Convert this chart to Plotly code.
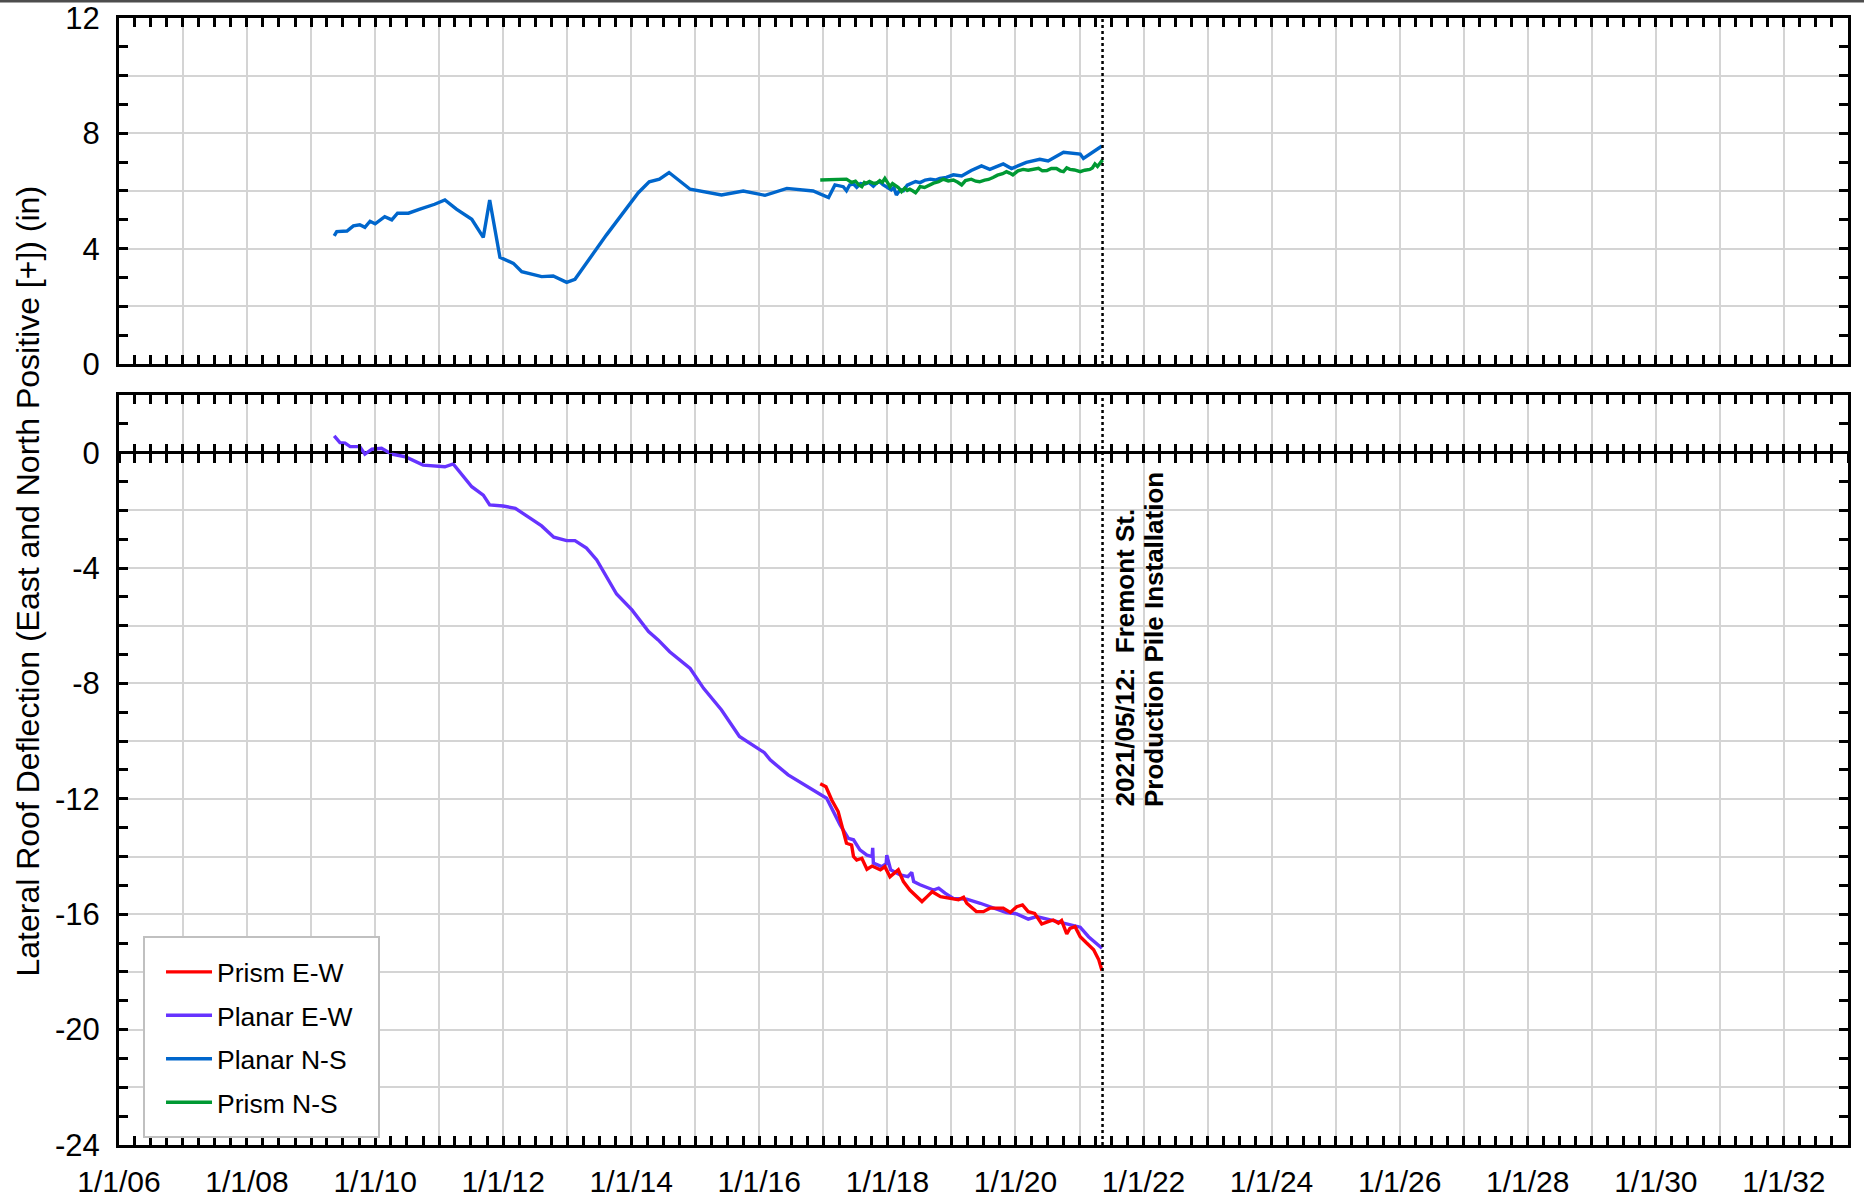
import datetime as dt
import plotly.graph_objects as go

# ---------------- data (decimal years) ----------------
planar_ns_t = [2009.36, 2009.40, 2009.56, 2009.66, 2009.76, 2009.84, 2009.92, 2010.00, 2010.15, 2010.26,
               2010.35, 2010.52, 2010.70, 2010.93, 2011.09, 2011.27, 2011.51, 2011.69, 2011.79, 2011.95,
               2012.16, 2012.29, 2012.60, 2012.78, 2012.99, 2013.12, 2013.61, 2014.11, 2014.28, 2014.44,
               2014.59, 2014.76, 2014.92, 2015.41, 2015.75, 2016.09, 2016.43, 2016.84, 2017.08, 2017.18,
               2017.24, 2017.31, 2017.36, 2017.41, 2017.47, 2017.52, 2017.58, 2017.65, 2017.71, 2017.78,
               2017.83, 2017.88, 2017.93, 2017.99, 2018.06, 2018.10, 2018.14, 2018.20, 2018.25, 2018.31,
               2018.38, 2018.44, 2018.51, 2018.59, 2018.67, 2018.75, 2018.82, 2018.92, 2019.03, 2019.16,
               2019.31, 2019.47, 2019.60, 2019.81, 2019.94, 2020.17, 2020.38, 2020.51, 2020.75, 2021.01,
               2021.06, 2021.35]
planar_ns_v = [4.44, 4.59, 4.61, 4.79, 4.83, 4.74, 4.95, 4.86, 5.11, 5.00,
               5.23, 5.23, 5.37, 5.54, 5.69, 5.37, 5.02, 4.39, 5.69, 3.70,
               3.49, 3.20, 3.03, 3.05, 2.83, 2.94, 4.47, 5.94, 6.32, 6.41,
               6.64, 6.35, 6.06, 5.86, 6.00, 5.85, 6.09, 6.00, 5.77, 6.21,
               6.18, 6.15, 6.01, 6.21, 6.24, 6.13, 6.26, 6.24, 6.30, 6.17,
               6.28, 6.32, 6.22, 6.15, 6.04, 6.12, 5.86, 6.05, 6.01, 6.20,
               6.27, 6.33, 6.29, 6.38, 6.41, 6.38, 6.44, 6.47, 6.56, 6.52,
               6.71, 6.87, 6.75, 6.94, 6.78, 6.99, 7.10, 7.04, 7.34, 7.28,
               7.13, 7.56]

prism_ns_t = [2016.95, 2017.36, 2017.44, 2017.50, 2017.55, 2017.60, 2017.64, 2017.67, 2017.72, 2017.78,
              2017.83, 2017.88, 2017.92, 2017.96, 2018.00, 2018.04, 2018.08, 2018.12, 2018.17, 2018.22,
              2018.27, 2018.31, 2018.35, 2018.40, 2018.44, 2018.48, 2018.51, 2018.58, 2018.65, 2018.72,
              2018.80, 2018.87, 2018.95, 2019.03, 2019.10, 2019.16, 2019.22, 2019.31, 2019.38, 2019.44,
              2019.52, 2019.58, 2019.65, 2019.72, 2019.80, 2019.86, 2019.91, 2019.96, 2020.04, 2020.12,
              2020.20, 2020.28, 2020.36, 2020.42, 2020.49, 2020.56, 2020.64, 2020.70, 2020.75, 2020.80,
              2020.85, 2020.92, 2021.01, 2021.08, 2021.16, 2021.20, 2021.24, 2021.28, 2021.32, 2021.36]
prism_ns_v = [6.38, 6.41, 6.30, 6.34, 6.22, 6.15, 6.30, 6.27, 6.33, 6.27,
              6.27, 6.36, 6.30, 6.44, 6.30, 6.15, 6.26, 6.21, 6.12, 5.98,
              6.10, 6.02, 6.06, 6.00, 5.94, 6.05, 6.15, 6.12, 6.20, 6.27,
              6.32, 6.41, 6.35, 6.38, 6.30, 6.21, 6.36, 6.41, 6.34, 6.32,
              6.38, 6.40, 6.47, 6.55, 6.60, 6.67, 6.62, 6.56, 6.70, 6.75,
              6.72, 6.75, 6.79, 6.70, 6.71, 6.78, 6.78, 6.70, 6.67, 6.80,
              6.75, 6.73, 6.67, 6.72, 6.75, 6.80, 6.94, 6.85, 6.95, 7.08]

planar_ew_t = [2009.36, 2009.45, 2009.53, 2009.61, 2009.76, 2009.84, 2009.95, 2010.10, 2010.26, 2010.47,
               2010.75, 2011.09, 2011.22, 2011.51, 2011.69, 2011.79, 2012.00, 2012.19, 2012.42, 2012.60,
               2012.79, 2012.99, 2013.12, 2013.30, 2013.46, 2013.77, 2014.01, 2014.27, 2014.42, 2014.60,
               2014.92, 2015.13, 2015.41, 2015.69, 2016.08, 2016.17, 2016.45, 2017.05, 2017.26, 2017.39,
               2017.47, 2017.57, 2017.68, 2017.76, 2017.77, 2017.78, 2017.91, 2017.98, 2017.99, 2018.05,
               2018.20, 2018.32, 2018.38, 2018.41, 2018.51, 2018.60, 2018.72, 2018.80, 2018.90, 2019.03,
               2019.24, 2019.45, 2019.65, 2019.86, 2020.02, 2020.20, 2020.33, 2020.51, 2020.75, 2021.01,
               2021.14, 2021.35]
planar_ew_v = [0.58, 0.35, 0.33, 0.21, 0.21, -0.05, 0.12, 0.15, -0.05, -0.14,
               -0.43, -0.49, -0.39, -1.18, -1.47, -1.81, -1.85, -1.93, -2.27, -2.54,
               -2.93, -3.05, -3.05, -3.31, -3.72, -4.90, -5.45, -6.20, -6.49, -6.90,
               -7.48, -8.17, -8.92, -9.84, -10.40, -10.65, -11.17, -11.98, -12.90, -13.37,
               -13.42, -13.77, -13.95, -14.00, -13.70, -14.23, -14.35, -14.25, -13.95, -14.46,
               -14.64, -14.70, -14.55, -14.87, -14.98, -15.05, -15.16, -15.10, -15.27, -15.45,
               -15.48, -15.62, -15.79, -15.94, -15.99, -16.17, -16.08, -16.17, -16.31, -16.45,
               -16.78, -17.18]

prism_ew_t = [2016.95, 2017.04, 2017.13, 2017.23, 2017.36, 2017.44, 2017.47, 2017.52, 2017.60, 2017.68,
              2017.76, 2017.89, 2017.96, 2018.04, 2018.17, 2018.25, 2018.35, 2018.46, 2018.54, 2018.62,
              2018.70, 2018.83, 2018.98, 2019.11, 2019.19, 2019.24, 2019.39, 2019.50, 2019.60, 2019.81,
              2019.92, 2020.02, 2020.11, 2020.20, 2020.30, 2020.41, 2020.51, 2020.59, 2020.67, 2020.72,
              2020.80, 2020.85, 2020.93, 2021.01, 2021.11, 2021.22, 2021.30, 2021.35]
prism_ew_v = [-11.48, -11.58, -12.04, -12.44, -13.54, -13.60, -14.00, -14.12, -14.06, -14.44,
              -14.33, -14.46, -14.35, -14.70, -14.46, -14.87, -15.16, -15.39, -15.56, -15.39,
              -15.22, -15.39, -15.45, -15.50, -15.41, -15.62, -15.91, -15.91, -15.79, -15.79,
              -15.94, -15.74, -15.68, -15.91, -15.97, -16.34, -16.26, -16.20, -16.31, -16.22,
              -16.68, -16.49, -16.43, -16.78, -17.00, -17.23, -17.58, -17.95]

EVENT_DATE = "2021-05-12"
EVENT_LINES = ["2021/05/12:  Fremont St.", "Production Pile Installation"]
X_RANGE = ["2006-01-01", "2033-01-01"]
TOP_RANGE = [0, 12]
BOT_RANGE = [-24, 2]
TOP_TICKVALS = [0, 2, 4, 6, 8, 10, 12]
TOP_TICKTEXT = ["0", "", "4", "", "8", "", "12"]
BOT_TICKVALS = [-24, -22, -20, -18, -16, -14, -12, -10, -8, -6, -4, -2, 0, 2]
BOT_TICKTEXT = ["-24", "", "-20", "", "-16", "", "-12", "", "-8", "", "-4", "", "0", ""]
Y_TITLE = "Lateral Roof Deflection (East and North Positive [+]) (in)"

RED = "#ff0000"
PURPLE = "#6633ff"
BLUE = "#0066cc"
GREEN = "#009933"


def to_dates(years):
    out = []
    for d in years:
        y = int(d)
        a = dt.datetime(y, 1, 1)
        b = dt.datetime(y + 1, 1, 1)
        out.append(a + (b - a) * (d - y))
    return out


fig = go.Figure()
LW = 3.4
fig.add_trace(go.Scatter(x=to_dates(planar_ew_t), y=planar_ew_v, xaxis="x2", yaxis="y2", mode="lines",
                         name="Planar E-W", line=dict(color=PURPLE, width=LW), legendrank=2, legendgroup="g2"))
fig.add_trace(go.Scatter(x=to_dates(prism_ew_t), y=prism_ew_v, xaxis="x2", yaxis="y2", mode="lines",
                         name="Prism E-W", line=dict(color=RED, width=LW), legendrank=1, legendgroup="g1"))
fig.add_trace(go.Scatter(x=to_dates(planar_ns_t), y=planar_ns_v, xaxis="x", yaxis="y", mode="lines",
                         name="Planar N-S", line=dict(color=BLUE, width=LW), legendrank=3, legendgroup="g3"))
fig.add_trace(go.Scatter(x=to_dates(prism_ns_t), y=prism_ns_v, xaxis="x", yaxis="y", mode="lines",
                         name="Prism N-S", line=dict(color=GREEN, width=LW), legendrank=4, legendgroup="g4"))
# dummy traces so the zero-line tick axes are drawn
for ax in ["x3", "x4"]:
    fig.add_trace(go.Scatter(x=[None], y=[None], xaxis=ax, yaxis="y2", showlegend=False, hoverinfo="skip"))

GRID = "#d4d4d4"
TL = 9
TW = 2.5
FONT_TICK = 31

xcommon = dict(type="date", range=X_RANGE, tick0="2006-01-01", dtick="M12", automargin=False,
               showline=True, linecolor="black", linewidth=3, mirror="ticks",
               ticks="inside", ticklen=TL, tickwidth=TW, tickcolor="black",
               showgrid=True, gridcolor=GRID, gridwidth=1.5, zeroline=False,
               minor=dict(dtick="M3", ticks="inside", ticklen=TL, tickwidth=TW,
                          tickcolor="black", showgrid=False))
ycommon = dict(tickmode="array", automargin=False,
               showline=True, linecolor="black", linewidth=3, mirror="ticks",
               ticks="inside", ticklen=TL, tickwidth=TW, tickcolor="black",
               showgrid=True, gridcolor=GRID, gridwidth=1.5,
               tickfont=dict(size=FONT_TICK), ticklabelstandoff=10,
               minor=dict(tick0=0, dtick=1, ticks="inside", ticklen=TL, tickwidth=TW,
                          tickcolor="black", showgrid=False))

TOP_DOM = [0.693, 1.0]
BOT_DOM = [0.0, 0.6655]
ZERO_POS = BOT_DOM[0] + (0 - BOT_RANGE[0]) / (BOT_RANGE[1] - BOT_RANGE[0]) * (BOT_DOM[1] - BOT_DOM[0])

zero_axis = dict(type="date", range=X_RANGE, tick0="2006-01-01", dtick="M12", overlaying="x2",
                 anchor="free", position=ZERO_POS, side="bottom", showline=False, showgrid=False,
                 showticklabels=False, zeroline=False, ticklen=TL, tickwidth=TW, tickcolor="black",
                 automargin=False)

fig.update_layout(
    width=1864, height=1199,
    margin=dict(l=119, r=16, t=18, b=54, autoexpand=False),
    paper_bgcolor="white", plot_bgcolor="white",
    font=dict(family="Liberation Sans, Arial, sans-serif", color="black", size=FONT_TICK),
    xaxis=dict(**xcommon, anchor="y", domain=[0, 1], showticklabels=False, matches="x2"),
    xaxis2=dict(**xcommon, anchor="y2", domain=[0, 1], showticklabels=True,
                tickformat="%-m/%-d/%y", ticklabelstep=2, tickfont=dict(size=30),
                ticklabelstandoff=8),
    xaxis3=dict(**zero_axis, ticks="outside",
                minor=dict(dtick="M3", ticks="outside", ticklen=TL, tickwidth=TW, tickcolor="black",
                           showgrid=False)),
    xaxis4=dict(**zero_axis, ticks="inside",
                minor=dict(dtick="M3", ticks="inside", ticklen=TL, tickwidth=TW, tickcolor="black",
                           showgrid=False)),
    yaxis=dict(**ycommon, anchor="x", domain=TOP_DOM, range=TOP_RANGE, zeroline=False,
               tickvals=TOP_TICKVALS, ticktext=TOP_TICKTEXT),
    yaxis2=dict(**ycommon, anchor="x2", domain=BOT_DOM, range=BOT_RANGE,
                tickvals=BOT_TICKVALS, ticktext=BOT_TICKTEXT,
                zeroline=True, zerolinecolor="black", zerolinewidth=3),
    showlegend=True,
    legend=dict(x=0.0243, y=0.1747, xanchor="left", yanchor="top",
                bgcolor="rgba(0,0,0,0)", borderwidth=0,
                font=dict(size=26.5), traceorder="grouped", tracegroupgap=6,
                itemwidth=46),
)

# event line in both panels
for xr, yr in [("x", "y domain"), ("x2", "y2 domain")]:
    fig.add_shape(type="line", xref=xr, yref=yr, x0=EVENT_DATE, x1=EVENT_DATE, y0=0, y1=1,
                  line=dict(color="black", width=2.5, dash="dot"))

# legend frame
fig.add_shape(type="rect", xref="paper", yref="paper", x0=0.01446, x1=0.15038, y0=0.0071, y1=0.18456,
              fillcolor="white", line=dict(color="#c0c0c0", width=2), layer="above")

for i, line_text in enumerate(EVENT_LINES):
    fig.add_annotation(x=EVENT_DATE, y=-12.35, xref="x2", yref="y2", text="<b>" + line_text + "</b>",
                       textangle=-90, xanchor="left", yanchor="bottom", xshift=5 + 30 * i,
                       showarrow=False, align="left", font=dict(size=26, color="black"))

fig.add_annotation(x=-0.0532, y=0.5, xref="paper", yref="paper", text=Y_TITLE, textangle=-90,
                   showarrow=False, xanchor="center", yanchor="middle", font=dict(size=32))

# thin dark frame line across top of image
fig.add_shape(type="line", xref="paper", yref="paper", x0=-0.08, x1=1.02, y0=1.0151, y1=1.0151,
              line=dict(color="#4d4d4d", width=3))

fig.write_html("out.html", config={"displayModeBar": False},
               post_script="document.body.style.margin='0px';")
